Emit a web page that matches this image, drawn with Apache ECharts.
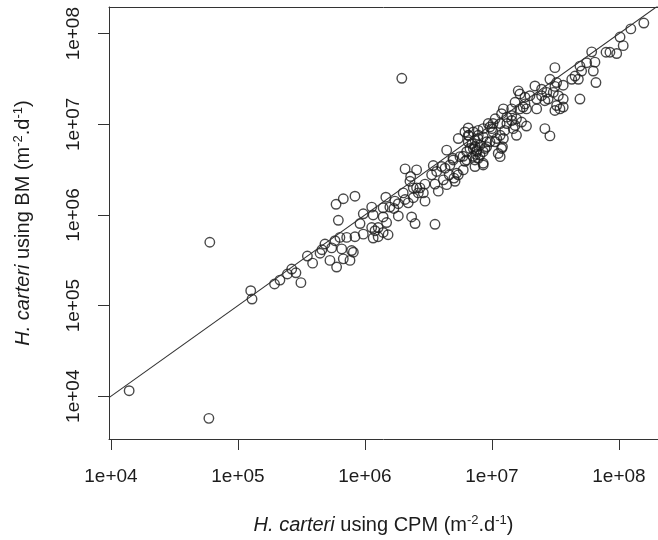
<!DOCTYPE html>
<html><head><meta charset="utf-8">
<script src="https://cdn.jsdelivr.net/npm/echarts@6/dist/echarts.min.js"></script>
<style>html,body{margin:0;padding:0;background:#fff}#c{width:658px;height:540px}</style>
</head><body><div id="c"></div>
<script>
// H. carteri flux estimated with CPM (x) and BM (y), m^-2.d^-1
const cpm = [
1.39e4,5.9e4,6.0e4,1.26e5,1.29e5,1.94e5,2.14e5,2.45e5,2.65e5,2.86e5,
3.13e5,3.52e5,3.87e5,4.43e5,4.58e5,4.84e5,5.3e5,5.98e5,5.47e5,5.81e5,
6.35e5,6.56e5,7.85e5,8.1e5,6.17e5,5.92e5,6.75e5,8.34e5,9.14e5,9.7e5,
1.13e6,1.16e6,1.13e6,1.2e6,1.27e6,1.39e6,1.52e6,9.7e5,8.34e5,1.16e6,
1.27e6,1.39e6,1.48e6,1.46e6,1.57e6,1.69e6,1.72e6,1.83e6,1.83e6,2.0e6,
2.07e6,2.19e6,2.4e6,2.63e6,2.33e6,2.48e6,2.07e6,2.29e6,2.26e6,2.55e6,
2.55e6,1.95e6,2.4e6,2.71e6,2.88e6,2.97e6,3.56e6,3.78e6,3.35e6,3.67e6,
3.45e6,4.02e6,4.14e6,4.4e6,4.61e6,5.02e6,5.43e6,5.12e6,4.4e6,4.93e6,
5.43e6,5.92e6,6.13e6,7.08e6,7.48e6,6.5e6,6.59e6,6.97e6,7.35e6,7.59e6,
7.76e6,3.13e7,2.86e7,3.23e7,2.18e7,2.46e7,2.7e7,1.61e7,1.66e7,1.82e7,
1.99e7,2.25e7,2.77e7,3.13e7,3.23e7,1.52e7,1.23e7,1.19e7,1.31e7,1.43e7,
1.66e7,1.76e7,1.87e7,2.25e7,1.06e7,1.16e7,1.31e7,1.43e7,1.52e7,1.56e7,
1.87e7,2.61e7,2.86e7,9.35e6,9.95e6,1.02e7,6.13e6,7.8e6,8.53e6,7.35e6,
9.08e6,6.5e6,1.23e7,1.16e7,1.06e7,8.81e6,7.13e6,6.32e6,8.05e6,1.12e7,
1.21e7,7.35e6,8.53e6,1.57e8,1.24e8,1.02e8,1.08e8,7.91e7,8.49e7,9.6e7,
6.1e7,5.57e7,6.47e7,4.93e7,5.08e7,4.51e7,4.79e7,6.28e7,6.59e7,3.13e7,
3.64e7,4.25e7,2.46e7,3.04e7,2.61e7,3.33e7,3.64e7,4.93e7,3.64e7,3.43e7,
1.71e7,2.97e6,3.56e6,7.62e5,
6.5e6,7.13e6,7.8e6,8.53e6,9.64e6,8.05e6,9.08e6,9.64e6,7.59e6,8.53e6,
6.71e6,5.6e6,6.32e6,7.8e6,8.53e6,7.35e6,4.95e6,4.67e6,4.27e6,5.94e6,
5.27e6,1.19e7,1.16e7,1.09e7,1.26e7,1.47e7,1.56e7,1.43e7,1.82e7,1.02e7,
1.39e6,7.18e5,6.75e5
];
const bm = [
1.15e4,5.7e3,5.0e5,1.46e5,1.18e5,1.73e5,1.91e5,2.23e5,2.53e5,2.30e5,
1.79e5,3.52e5,2.94e5,3.78e5,4.13e5,4.78e5,3.15e5,2.66e5,4.33e5,5.2e5,
5.65e5,4.22e5,4.05e5,3.88e5,8.73e5,1.31e6,1.51e6,1.61e6,8.04e5,1.03e6,
1.22e6,1.0e6,7.26e5,6.7e5,7.26e5,6.41e5,6.05e5,6.14e5,5.75e5,5.56e5,
5.75e5,9.5e5,8.24e5,1.57e6,1.22e6,1.18e6,1.42e6,1.33e6,9.75e5,1.75e6,
1.48e6,1.36e6,1.55e6,1.75e6,9.5e5,8.04e5,3.22e6,2.66e6,2.35e6,3.14e6,
1.99e6,3.22e7,1.99e6,1.99e6,1.75e6,2.19e6,2.19e6,1.83e6,2.77e6,3.02e6,
3.51e6,3.42e6,2.44e6,2.16e6,2.77e6,2.55e6,2.77e6,2.35e6,5.19e6,4.22e6,
6.97e6,4.44e6,3.91e6,4.44e6,4.66e6,9.12e6,7.52e6,6.14e6,5.7e6,5.02e6,
6.97e6,4.22e7,3.14e7,2.89e7,2.65e7,2.44e7,2.25e7,2.34e7,2.16e7,1.99e7,
2.07e7,1.9e7,1.9e7,1.42e7,1.61e7,1.75e7,1.48e7,1.31e7,1.2e7,1.25e7,
1.48e7,1.55e7,1.48e7,1.48e7,1.15e7,1.02e7,1.02e7,1.1e7,9.73e6,7.57e6,
9.57e6,8.96e6,7.45e6,1.02e7,8.96e6,8.24e6,8.24e6,7.57e6,7.26e6,6.67e6,
6.41e6,6.41e6,6.97e6,7.57e6,6.41e6,5.42e6,5.42e6,4.99e6,4.58e6,4.77e6,
5.65e6,4.04e6,3.72e6,1.31e8,1.13e8,9.18e7,7.38e7,6.24e7,6.24e7,6.04e7,
6.3e7,4.78e7,4.85e7,4.39e7,3.87e7,3.41e7,3.14e7,3.87e7,2.89e7,2.62e7,
2.7e7,3.14e7,2.07e7,2.25e7,1.82e7,2.07e7,1.9e7,1.9e7,1.55e7,1.48e7,
1.06e7,1.42e6,7.89e5,3.15e5,
7.57e6,8.24e6,8.57e6,8.96e6,9.35e6,5.89e6,5.65e6,6.41e6,5.19e6,4.99e6,
5.42e6,4.4e6,4.04e6,4.22e6,3.56e6,3.42e6,4.04e6,3.56e6,3.28e6,3.14e6,
2.89e6,5.42e6,4.4e6,6.97e6,8.57e6,8.96e6,1.15e7,1.48e7,1.68e7,1.02e7,
1.2e6,5.65e5,3.28e5
];
const xTicks = [1e4, 1e5, 1e6, 1e7, 1e8];
const yTicks = [1e4, 1e5, 1e6, 1e7, 1e8];
const xTickLabels = ['1e+04', '1e+05', '1e+06', '1e+07', '1e+08'];
const yTickLabels = ['1e+04', '1e+05', '1e+06', '1e+07', '1e+08'];
const xRange = [9646, 2.03e8];
const yRange = [3372, 1.97e8];
const oneToOneLine = [9646, 2.03e8]; // y = x reference line, drawn across the x range

const font = '"Liberation Sans", Arial, Helvetica, sans-serif';
const ink = '#1c1c1c';
const frame = '#333';
const points = cpm.map((v, i) => [v, bm[i]]);
function labelFor(ticks, labels) {
  return v => { const i = ticks.findIndex(t => Math.abs(t - v) / t < 1e-6); return i >= 0 ? labels[i] : ''; };
}
const richName = {
  i: { fontStyle: 'italic', fontSize: 20, fontFamily: font, color: ink },
  n: { fontSize: 20, fontFamily: font, color: ink },
  s: { fontSize: 13, fontFamily: font, color: ink, verticalAlign: 'top', padding: [0, 0, 9, 0] }
};
const chart = echarts.init(document.getElementById('c'), null, { renderer: 'canvas' });
chart.setOption({
  animation: false,
  backgroundColor: '#fff',
  grid: { left: 109, top: 7, right: 0, bottom: 96, show: false },
  xAxis: [{
    type: 'log', logBase: 10, min: xRange[0], max: xRange[1], position: 'bottom',
    splitLine: { show: false }, axisLine: { show: true, lineStyle: { color: frame, width: 1 } },
    axisTick: { show: true, length: 11, lineStyle: { color: frame, width: 1 }, customValues: xTicks },
    axisLabel: { customValues: xTicks, formatter: labelFor(xTicks, xTickLabels), fontSize: 19, fontFamily: font, color: ink, margin: 28 },
    name: '{i|H. carteri}{n| using CPM (m}{s|-2}{n|.d}{s|-1}{n|)}',
    nameLocation: 'middle', nameGap: 75,
    nameTextStyle: { rich: richName }
  }, {
    type: 'log', logBase: 10, min: xRange[0], max: xRange[1], position: 'top',
    splitLine: { show: false }, axisLine: { show: true, lineStyle: { color: frame, width: 1 } },
    axisTick: { show: false }, axisLabel: { show: false }
  }],
  yAxis: {
    type: 'log', logBase: 10, min: yRange[0], max: yRange[1],
    splitLine: { show: false }, axisLine: { show: true, lineStyle: { color: frame, width: 1 } },
    axisTick: { show: true, length: 11, lineStyle: { color: frame, width: 1 }, customValues: yTicks },
    axisLabel: { customValues: yTicks, formatter: labelFor(yTicks, yTickLabels), rotate: 90, fontSize: 19, fontFamily: font, color: ink, margin: 26 },
    name: '{i|H. carteri}{n| using BM (m}{s|-2}{n|.d}{s|-1}{n|)}',
    nameLocation: 'middle', nameGap: 75,
    nameTextStyle: { rich: richName }
  },
  series: [
    {
      type: 'line', data: [[oneToOneLine[0], oneToOneLine[0]], [oneToOneLine[1], oneToOneLine[1]]],
      symbol: 'none', clip: true, silent: true,
      lineStyle: { color: frame, width: 1.1 }
    },
    {
      type: 'scatter', data: points, symbol: 'circle', symbolSize: 9.5,
      itemStyle: { color: 'rgba(0,0,0,0)', borderColor: ink, borderWidth: 1.4 }
    }
  ]
});
</script></body></html>
